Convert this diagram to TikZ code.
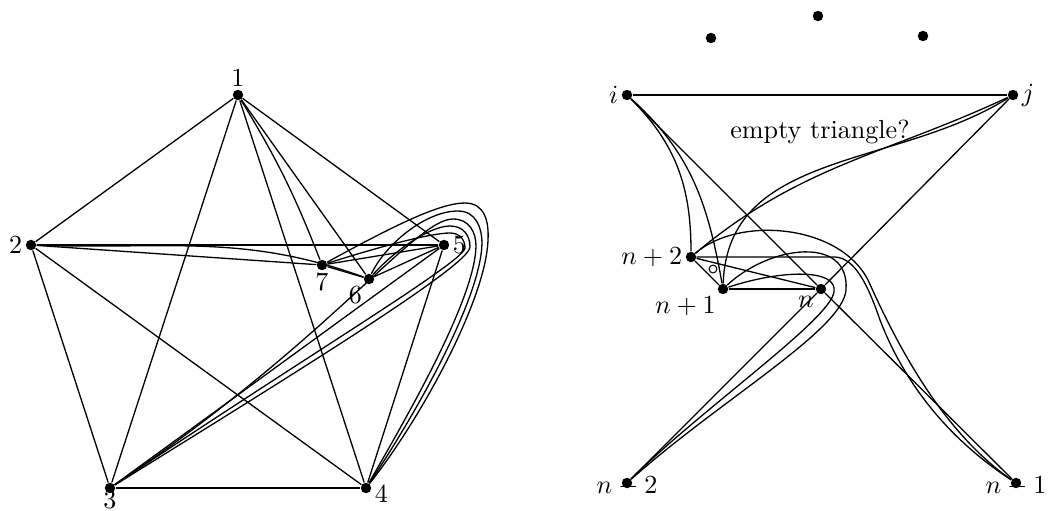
\documentclass[tikz,border=0pt]{standalone}
\usepackage{tikz}

\begin{document}
\begin{tikzpicture}[x=0.383pt, y=-0.383pt,
    vtx/.style={circle, fill=black, inner sep=0pt, minimum size=4pt},
    edge/.style={line width=0.5pt},
    lbl/.style={inner sep=1pt}
]
\useasboundingbox (0,0) rectangle (1053,510);

% --- left: the seven points ---
\node[vtx, label={[lbl]above:$1$}] (a1) at (238, 95) {};
\node[vtx, label={[lbl]left:$2$}]  (a2) at (31, 245) {};
\node[vtx, label={[lbl, yshift=2pt]below:$3$}] (a3) at (110, 488) {};
\node[vtx, label={[lbl, yshift=-2.5pt]right:$4$}] (a4) at (366, 488) {};
\node[vtx, label={[lbl]right:$5$}] (a5) at (444, 245) {};
\node[vtx, label={[lbl]below left:$6$}] (a6) at (369, 279) {};
\node[vtx, label={[lbl]below:$7$}] (a7) at (322, 265) {};

% --- left: straight edges ---
\foreach \u/\v in {a1/a2, a1/a3, a1/a4, a1/a5, a1/a6, a2/a3, a2/a4, a2/a5, a2/a7,
                   a3/a4, a3/a5, a4/a5, a5/a6, a5/a7, a6/a7}
    \draw[edge] (\u) -- (\v);

% --- left: bent edges ---
\draw[edge] (a1) to[bend left=5] (a7);
\draw[edge] (a2) to[out=-2, in=160] (a6);
% loops round 5
\draw[edge] (a7) .. controls (395,225) and (440,203) .. (465,203)
                 .. controls (485,203) and (489,222) .. (488,240)
                 .. controls (486,300) and (420,420) .. (a4);
\draw[edge] (a6) .. controls (385,245) and (425,211) .. (458,211)
                 .. controls (476,211) and (482,228) .. (482,243)
                 .. controls (481,300) and (412,420) .. (a4);
\draw[edge] (a3) .. controls (330,340) and (415,219) .. (453,219)
                 .. controls (469,219) and (476,232) .. (476,246)
                 .. controls (475,300) and (405,420) .. (a4);
\draw[edge] (a6) .. controls (395,250) and (430,226) .. (450,226)
                 .. controls (464,226) and (470,236) .. (470,247)
                 .. controls (470,265) and (300,370) .. (a3);
\draw[edge] (a7) .. controls (385,245) and (432,233) .. (450,233)
                 .. controls (460,233) and (465,240) .. (465,248)
                 .. controls (464,262) and (300,360) .. (a3);

% --- right: the points ---
\node[vtx] (d1) at (711, 38) {};
\node[vtx] (d2) at (818, 16) {};
\node[vtx] (d3) at (923, 36) {};
\node[vtx, label={[lbl]left:$i$}]  (vi) at (627, 95) {};
\node[vtx, label={[lbl]right:$j$}] (vj) at (1013, 95) {};
\node[vtx, label={[lbl]left:$n+2$}] (n2) at (691, 257) {};
\node[vtx, label={[lbl]below left:$n+1$}] (n1) at (723, 289) {};
\node[vtx, label={[lbl]below left:$n$}] (n0) at (821, 289) {};
\node[vtx, label={[lbl,yshift=6pt]below:$n-2$}] (m2) at (627, 483) {};
\node[vtx, label={[lbl,yshift=6pt]below:$n-1$}] (m1) at (1016, 483) {};

\node (q) at (820, 132) {empty triangle?};
\node[circle, draw, inner sep=0pt, minimum size=3pt] (hole) at (713, 269) {};

% --- right: straight edges ---
\foreach \u/\v in {vi/vj, vi/n0, vj/n0, n0/m1, n0/m2, n2/n1, n2/n0, n1/n0}
    \draw[edge] (\u) -- (\v);

% --- right: curved edges ---
\draw[edge] (vi) to[out=-45, in=90] (n2);
\draw[edge] (vi) to[out=-42, in=100] (n1);
\draw[edge] (vj) to[out=205, in=40] (n2);
\draw[edge] (vj) to[out=212, in=88] (n1);
\draw[edge] (n2) .. controls (740,215) and (840,225) .. (868,280)
                 .. controls (895,340) and (940,430) .. (m1);
\draw[edge] (n2) -- (835,257) .. controls (855,258) and (868,285) .. (880,320)
                 .. controls (905,385) and (950,440) .. (m1);
\draw[edge] (n1) .. controls (770,245) and (850,235) .. (846,290)
                 .. controls (843,330) and (720,400) .. (m2);
\draw[edge] (n1) .. controls (780,270) and (838,268) .. (834,292)
                 .. controls (830,320) and (700,410) .. (m2);
\end{tikzpicture}
\end{document}
